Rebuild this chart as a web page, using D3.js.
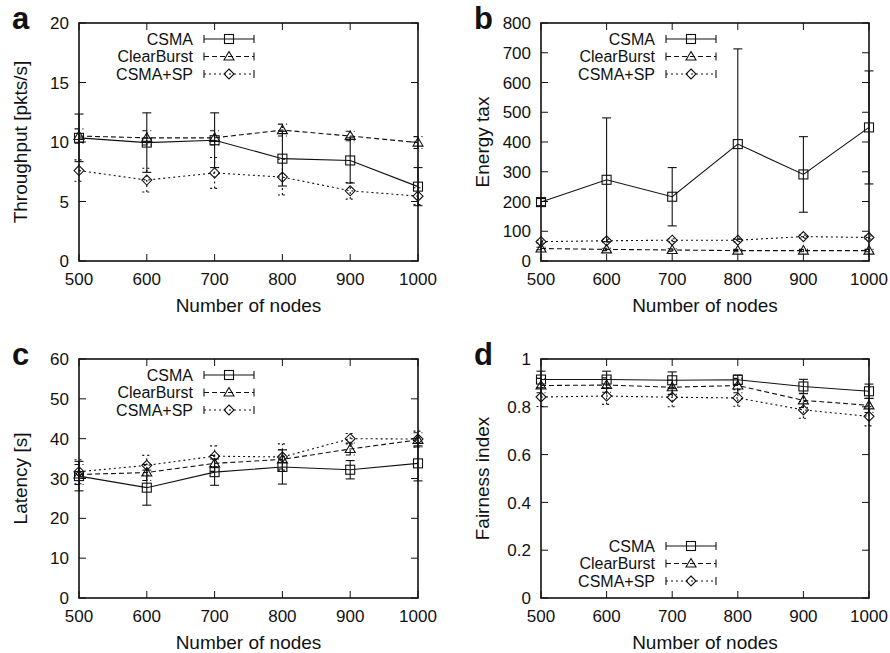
<!DOCTYPE html>
<html>
<head>
<meta charset="utf-8">
<script src="https://cdn.jsdelivr.net/npm/d3@7"></script>
<style>
  body { margin: 0; background: #fff; }
  svg text { font-family: "Liberation Sans", Arial, Helvetica, sans-serif; fill: #111; }
</style>
</head>
<body>
<div id="chart"></div>
<script>
// Shared x values and series names
const nodes = [500, 600, 700, 800, 900, 1000];
const seriesNames = ['CSMA', 'ClearBurst', 'CSMA+SP'];

// (a) Throughput [pkts/s]
const tputCsma = [10.35, 9.95, 10.15, 8.6, 8.45, 6.25];
const tputCsmaErr = [2.0, 2.5, 2.3, 2.3, 1.9, 1.6];
const tputBurst = [10.5, 10.35, 10.35, 11.0, 10.5, 9.95];
const tputBurstErr = [0.6, 0.6, 0.6, 0.5, 0.4, 0.5];
const tputSp = [7.6, 6.8, 7.4, 7.05, 5.9, 5.45];
const tputSpErr = [0.9, 1.0, 1.3, 1.5, 0.7, 0.7];
const tputTicks = [0, 5, 10, 15, 20];

// (b) Energy tax
const energyCsma = [198, 273, 216, 393, 291, 449];
const energyCsmaErr = [12, 208, 98, 320, 127, 190];
const energyBurst = [42, 39, 37, 35, 35, 35];
const energyBurstErr = [4, 4, 4, 4, 4, 4];
const energySp = [65, 68, 70, 70, 82, 79];
const energySpErr = [5, 5, 5, 5, 5, 5];
const energyTicks = [0, 100, 200, 300, 400, 500, 600, 700, 800];

// (c) Latency [s]
const latCsma = [30.6, 27.7, 31.6, 32.9, 32.2, 33.8];
const latCsmaErr = [3.7, 4.4, 3.3, 4.3, 2.3, 4.4];
const latBurst = [31.0, 31.5, 33.8, 34.8, 37.4, 39.7];
const latBurstErr = [2.5, 2.0, 2.0, 2.4, 1.5, 1.8];
const latSp = [31.7, 33.3, 35.6, 35.4, 40.0, 39.9];
const latSpErr = [3.0, 2.5, 2.6, 3.3, 1.3, 2.0];
const latTicks = [0, 10, 20, 30, 40, 50, 60];

// (d) Fairness index
const fairCsma = [0.914, 0.914, 0.911, 0.913, 0.885, 0.865];
const fairCsmaErr = [0.035, 0.035, 0.035, 0.02, 0.03, 0.03];
const fairBurst = [0.889, 0.891, 0.882, 0.889, 0.827, 0.806];
const fairBurstErr = [0.03, 0.03, 0.03, 0.03, 0.03, 0.03];
const fairSp = [0.841, 0.845, 0.840, 0.837, 0.787, 0.760];
const fairSpErr = [0.04, 0.035, 0.04, 0.035, 0.035, 0.04];
const fairTicks = [0, 0.2, 0.4, 0.6, 0.8, 1];

const svg = d3.select('#chart').append('svg')
    .attr('width', 890)
    .attr('height', 653);

const styles = [
    { dash: null, marker: 'square' },
    { dash: '5,3', marker: 'triangle' },
    { dash: '2,3', marker: 'diamond' }
];
const ink = '#111';

function drawMarker(g, type, x, y) {
    if (type === 'square') {
        g.append('rect').attr('x', x - 4.5).attr('y', y - 4.5)
            .attr('width', 9).attr('height', 9)
            .attr('fill', 'none').attr('stroke', ink).attr('stroke-width', 1.1);
    } else if (type === 'triangle') {
        g.append('path').attr('d', `M${x},${y - 5}L${x + 5},${y + 3.5}L${x - 5},${y + 3.5}Z`)
            .attr('fill', 'none').attr('stroke', ink).attr('stroke-width', 1.1);
    } else {
        g.append('path').attr('d', `M${x},${y - 5}L${x + 5},${y}L${x},${y + 5}L${x - 5},${y}Z`)
            .attr('fill', 'none').attr('stroke', ink).attr('stroke-width', 1.1);
    }
}

function drawPanel(p) {
    const x = d3.scaleLinear().domain([500, 1000]).range([p.left, p.right]);
    const y = d3.scaleLinear().domain(p.domain).range([p.bottom, p.top]);
    const g = svg.append('g');

    // inward ticks on all four sides (gnuplot style)
    const tick = 7;
    p.yTicks.forEach(t => {
        g.append('line').attr('x1', p.left).attr('x2', p.left + tick)
            .attr('y1', y(t)).attr('y2', y(t)).attr('stroke', ink);
        g.append('line').attr('x1', p.right).attr('x2', p.right - tick)
            .attr('y1', y(t)).attr('y2', y(t)).attr('stroke', ink);
        g.append('text').attr('x', p.left - 10).attr('y', y(t))
            .attr('dy', '0.36em').attr('text-anchor', 'end')
            .style('font-size', '17px').text(p.fmt(t));
    });
    nodes.forEach(t => {
        g.append('line').attr('x1', x(t)).attr('x2', x(t))
            .attr('y1', p.bottom).attr('y2', p.bottom - tick).attr('stroke', ink);
        g.append('line').attr('x1', x(t)).attr('x2', x(t))
            .attr('y1', p.top).attr('y2', p.top + tick).attr('stroke', ink);
        g.append('text').attr('x', x(t)).attr('y', p.bottom + 24)
            .attr('text-anchor', 'middle')
            .style('font-size', '17px').text(t);
    });

    // frame
    g.append('rect').attr('x', p.left).attr('y', p.top)
        .attr('width', p.right - p.left).attr('height', p.bottom - p.top)
        .attr('fill', 'none').attr('stroke', ink).attr('stroke-width', 1.6);

    // axis titles
    g.append('text').attr('x', (p.left + p.right) / 2).attr('y', p.bottom + 51)
        .attr('text-anchor', 'middle').style('font-size', '19px').text('Number of nodes');
    g.append('text')
        .attr('transform', `translate(${p.left - 52},${(p.top + p.bottom) / 2}) rotate(-90)`)
        .attr('text-anchor', 'middle').style('font-size', '19px').text(p.yTitle);

    // panel letter
    g.append('text').attr('x', p.left - 67).attr('y', p.top + 6)
        .style('font-size', '31px').style('font-weight', 'bold').text(p.letter);

    // series
    p.series.forEach((s, i) => {
        const st = styles[i];
        const pts = nodes.map((n, k) => ({ n, v: s.values[k], e: s.errors[k] }));
        const line = d3.line().x(d => x(d.n)).y(d => y(d.v));
        g.append('path').datum(pts).attr('d', line)
            .attr('fill', 'none').attr('stroke', ink).attr('stroke-width', 1.1)
            .attr('stroke-dasharray', st.dash);
        pts.forEach(d => {
            const cx = x(d.n), lo = y(d.v - d.e), hi = y(d.v + d.e);
            g.append('line').attr('x1', cx).attr('x2', cx).attr('y1', lo).attr('y2', hi)
                .attr('stroke', ink).attr('stroke-width', 1.1).attr('stroke-dasharray', st.dash);
            [lo, hi].forEach(yy => {
                g.append('line').attr('x1', cx - 4.5).attr('x2', cx + 4.5)
                    .attr('y1', yy).attr('y2', yy)
                    .attr('stroke', ink).attr('stroke-width', 1.1).attr('stroke-dasharray', st.dash);
            });
            drawMarker(g, st.marker, cx, y(d.v));
        });

        // legend entry
        const ly = p.legendTop + i * 17.5;
        const lx = p.left + 114;
        g.append('text').attr('x', lx).attr('y', ly).attr('dy', '0.36em')
            .attr('text-anchor', 'end').style('font-size', '16px').text(seriesNames[i]);
        g.append('line').attr('x1', lx + 11).attr('x2', lx + 61).attr('y1', ly).attr('y2', ly)
            .attr('stroke', ink).attr('stroke-width', 1.1).attr('stroke-dasharray', st.dash);
        [lx + 11, lx + 61].forEach(xx => {
            g.append('line').attr('x1', xx).attr('x2', xx).attr('y1', ly - 4).attr('y2', ly + 4)
                .attr('stroke', ink).attr('stroke-width', 1.1);
        });
        drawMarker(g, st.marker, lx + 36, ly);
    });
}

drawPanel({
    letter: 'a', left: 79, right: 418, top: 23, bottom: 261,
    domain: [0, 20], yTicks: tputTicks, fmt: d => d, yTitle: 'Throughput [pkts/s]',
    legendTop: 39,
    series: [
        { values: tputCsma, errors: tputCsmaErr },
        { values: tputBurst, errors: tputBurstErr },
        { values: tputSp, errors: tputSpErr }
    ]
});

drawPanel({
    letter: 'b', left: 541, right: 869, top: 23, bottom: 261,
    domain: [0, 800], yTicks: energyTicks, fmt: d => d, yTitle: 'Energy tax',
    legendTop: 39,
    series: [
        { values: energyCsma, errors: energyCsmaErr },
        { values: energyBurst, errors: energyBurstErr },
        { values: energySp, errors: energySpErr }
    ]
});

drawPanel({
    letter: 'c', left: 79, right: 418, top: 359, bottom: 598,
    domain: [0, 60], yTicks: latTicks, fmt: d => d, yTitle: 'Latency [s]',
    legendTop: 375,
    series: [
        { values: latCsma, errors: latCsmaErr },
        { values: latBurst, errors: latBurstErr },
        { values: latSp, errors: latSpErr }
    ]
});

drawPanel({
    letter: 'd', left: 541, right: 869, top: 359, bottom: 598,
    domain: [0, 1], yTicks: fairTicks, fmt: d => d, yTitle: 'Fairness index',
    legendTop: 546,
    series: [
        { values: fairCsma, errors: fairCsmaErr },
        { values: fairBurst, errors: fairBurstErr },
        { values: fairSp, errors: fairSpErr }
    ]
});
</script>
</body>
</html>
